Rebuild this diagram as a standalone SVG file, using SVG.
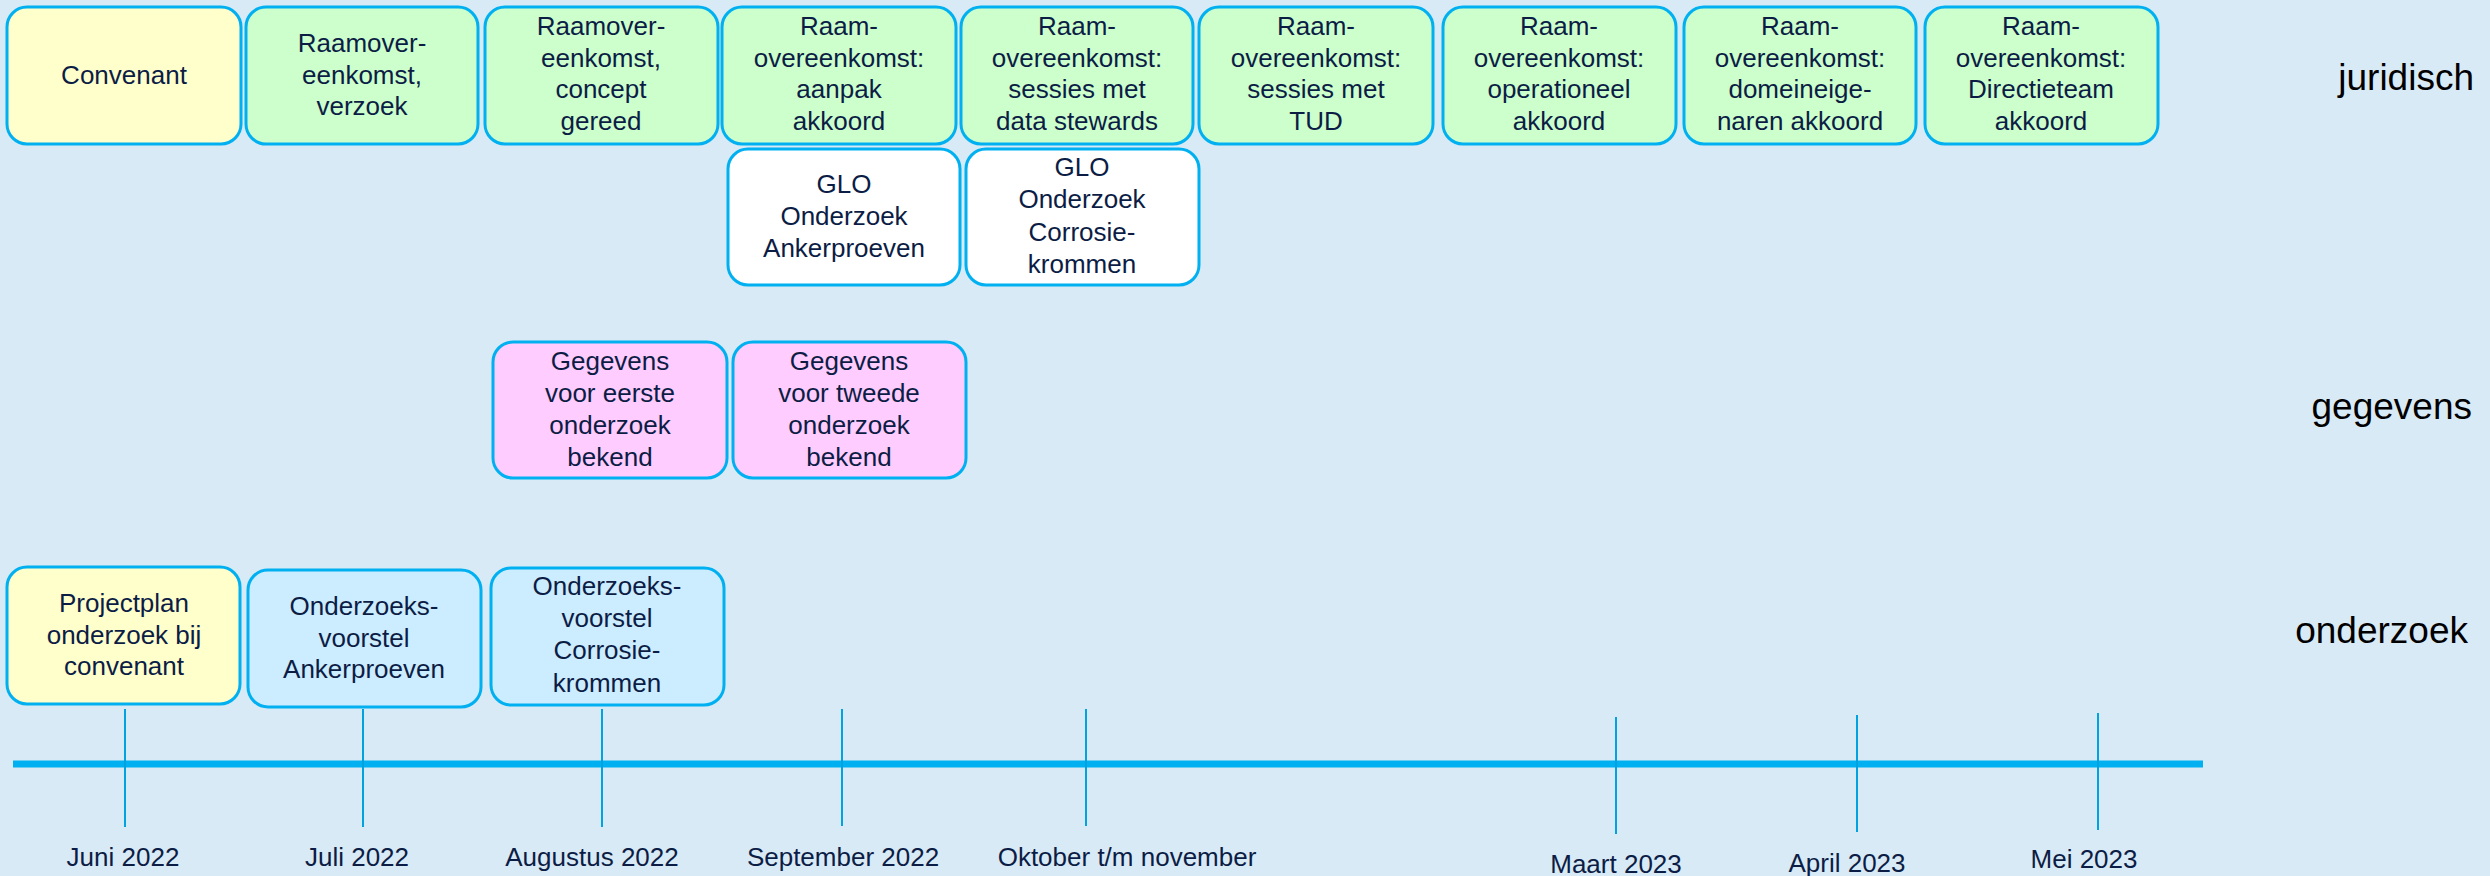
<svg xmlns="http://www.w3.org/2000/svg" width="2490" height="876" viewBox="0 0 2490 876">
  <style>
    .box { stroke: #00B0F0; stroke-width: 3; }
    .green { fill: #CCFFCC; }
    .yellow { fill: #FFFFCC; }
    .white { fill: #FFFFFF; }
    .pink { fill: #FFCCFF; }
    .blue { fill: #CCECFF; }
    .t { font-family: "Liberation Sans", Arial, sans-serif; font-size: 26px; fill: #0C1D45; text-anchor: middle; }
    .lane { font-family: "Liberation Sans", Arial, sans-serif; font-size: 37px; fill: #000000; text-anchor: end; }
    .axis { stroke: #00B0F0; stroke-width: 7; }
    .tick { stroke: #00A3E0; stroke-width: 2; }
  </style>

  <rect width="2490" height="876" fill="#D9EAF7"/>

  <!-- lane titles -->
  <g id="lanes">
    <text class="lane" x="2474" y="90">juridisch</text>
    <text class="lane" x="2472" y="419">gegevens</text>
    <text class="lane" x="2468" y="643">onderzoek</text>
  </g>

  <!-- juridisch row -->
  <g id="convenant">
    <rect class="box yellow" x="7" y="7" width="234" height="137" rx="20"/>
    <text class="t" x="124" y="84">Convenant</text>
  </g>
  <g id="raam-verzoek">
    <rect class="box green" x="246" y="7" width="232" height="137" rx="20"/>
    <text class="t" x="362" y="52">Raamover-</text>
    <text class="t" x="362" y="84">eenkomst,</text>
    <text class="t" x="362" y="115">verzoek</text>
  </g>
  <g id="raam-concept">
    <rect class="box green" x="485" y="7" width="233" height="137" rx="20"/>
    <text class="t" x="601" y="35">Raamover-</text>
    <text class="t" x="601" y="67">eenkomst,</text>
    <text class="t" x="601" y="98">concept</text>
    <text class="t" x="601" y="130">gereed</text>
  </g>
  <g id="raam-aanpak">
    <rect class="box green" x="722" y="7" width="234" height="137" rx="20"/>
    <text class="t" x="839" y="35">Raam-</text>
    <text class="t" x="839" y="67">overeenkomst:</text>
    <text class="t" x="839" y="98">aanpak</text>
    <text class="t" x="839" y="130">akkoord</text>
  </g>
  <g id="raam-stewards">
    <rect class="box green" x="961" y="7" width="232" height="137" rx="20"/>
    <text class="t" x="1077" y="35">Raam-</text>
    <text class="t" x="1077" y="67">overeenkomst:</text>
    <text class="t" x="1077" y="98">sessies met</text>
    <text class="t" x="1077" y="130">data stewards</text>
  </g>
  <g id="raam-tud">
    <rect class="box green" x="1199" y="7" width="234" height="137" rx="20"/>
    <text class="t" x="1316" y="35">Raam-</text>
    <text class="t" x="1316" y="67">overeenkomst:</text>
    <text class="t" x="1316" y="98">sessies met</text>
    <text class="t" x="1316" y="130">TUD</text>
  </g>
  <g id="raam-operationeel">
    <rect class="box green" x="1443" y="7" width="233" height="137" rx="20"/>
    <text class="t" x="1559" y="35">Raam-</text>
    <text class="t" x="1559" y="67">overeenkomst:</text>
    <text class="t" x="1559" y="98">operationeel</text>
    <text class="t" x="1559" y="130">akkoord</text>
  </g>
  <g id="raam-domeineigenaren">
    <rect class="box green" x="1684" y="7" width="232" height="137" rx="20"/>
    <text class="t" x="1800" y="35">Raam-</text>
    <text class="t" x="1800" y="67">overeenkomst:</text>
    <text class="t" x="1800" y="98">domeineige-</text>
    <text class="t" x="1800" y="130">naren akkoord</text>
  </g>
  <g id="raam-directieteam">
    <rect class="box green" x="1925" y="7" width="233" height="137" rx="20"/>
    <text class="t" x="2041" y="35">Raam-</text>
    <text class="t" x="2041" y="67">overeenkomst:</text>
    <text class="t" x="2041" y="98">Directieteam</text>
    <text class="t" x="2041" y="130">akkoord</text>
  </g>

  <!-- GLO research -->
  <g id="glo-ankerproeven">
    <rect class="box white" x="728" y="149" width="232" height="136" rx="20"/>
    <text class="t" x="844" y="193">GLO</text>
    <text class="t" x="844" y="225">Onderzoek</text>
    <text class="t" x="844" y="257">Ankerproeven</text>
  </g>
  <g id="glo-corrosie">
    <rect class="box white" x="966" y="149" width="233" height="136" rx="20"/>
    <text class="t" x="1082" y="176">GLO</text>
    <text class="t" x="1082" y="208">Onderzoek</text>
    <text class="t" x="1082" y="241">Corrosie-</text>
    <text class="t" x="1082" y="273">krommen</text>
  </g>

  <!-- gegevens row -->
  <g id="gegevens-eerste">
    <rect class="box pink" x="493" y="342" width="234" height="136" rx="20"/>
    <text class="t" x="610" y="370">Gegevens</text>
    <text class="t" x="610" y="402">voor eerste</text>
    <text class="t" x="610" y="434">onderzoek</text>
    <text class="t" x="610" y="466">bekend</text>
  </g>
  <g id="gegevens-tweede">
    <rect class="box pink" x="733" y="342" width="233" height="136" rx="20"/>
    <text class="t" x="849" y="370">Gegevens</text>
    <text class="t" x="849" y="402">voor tweede</text>
    <text class="t" x="849" y="434">onderzoek</text>
    <text class="t" x="849" y="466">bekend</text>
  </g>

  <!-- onderzoek row -->
  <g id="projectplan">
    <rect class="box yellow" x="7" y="567" width="233" height="137" rx="20"/>
    <text class="t" x="124" y="612">Projectplan</text>
    <text class="t" x="124" y="644">onderzoek bij</text>
    <text class="t" x="124" y="675">convenant</text>
  </g>
  <g id="voorstel-ankerproeven">
    <rect class="box blue" x="248" y="570" width="233" height="137" rx="20"/>
    <text class="t" x="364" y="615">Onderzoeks-</text>
    <text class="t" x="364" y="647">voorstel</text>
    <text class="t" x="364" y="678">Ankerproeven</text>
  </g>
  <g id="voorstel-corrosie">
    <rect class="box blue" x="491" y="568" width="233" height="137" rx="20"/>
    <text class="t" x="607" y="595">Onderzoeks-</text>
    <text class="t" x="607" y="627">voorstel</text>
    <text class="t" x="607" y="659">Corrosie-</text>
    <text class="t" x="607" y="692">krommen</text>
  </g>

  <!-- time axis with month ticks -->
  <g id="connectors">
    <line class="axis" x1="13" y1="764" x2="2203" y2="764"/>
    <line class="tick" x1="125" y1="709" x2="125" y2="827"/>
    <line class="tick" x1="363" y1="709" x2="363" y2="827"/>
    <line class="tick" x1="602" y1="709" x2="602" y2="827"/>
    <line class="tick" x1="842" y1="709" x2="842" y2="826"/>
    <line class="tick" x1="1086" y1="709" x2="1086" y2="826"/>
    <line class="tick" x1="1616" y1="717" x2="1616" y2="834"/>
    <line class="tick" x1="1857" y1="715" x2="1857" y2="832"/>
    <line class="tick" x1="2098" y1="713" x2="2098" y2="830"/>
  </g>
  <g id="months">
    <text class="t" x="123" y="866">Juni 2022</text>
    <text class="t" x="357" y="866">Juli 2022</text>
    <text class="t" x="592" y="866">Augustus 2022</text>
    <text class="t" x="843" y="866">September 2022</text>
    <text class="t" x="1127" y="866">Oktober t/m november</text>
    <text class="t" x="1616" y="873">Maart 2023</text>
    <text class="t" x="1847" y="872">April 2023</text>
    <text class="t" x="2084" y="868">Mei 2023</text>
  </g>
</svg>
